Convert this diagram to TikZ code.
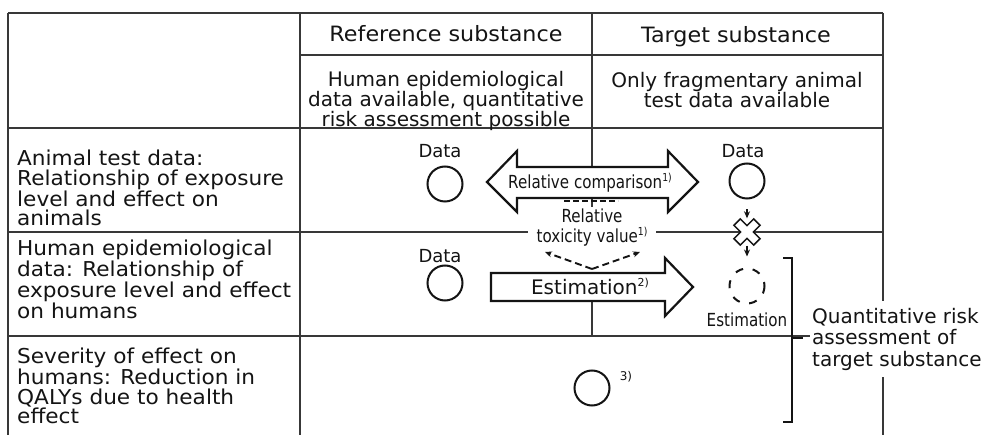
\documentclass[tikz,border=0pt]{standalone}
\usepackage{fontspec}
\setmainfont[FakeStretch=1.055]{DejaVu Sans}
\newfontfamily\plainfont{DejaVu Sans}
\newfontfamily\condfont[FakeStretch=0.84]{DejaVu Sans}
\usetikzlibrary{arrows.meta}
\newcommand\supnote[1]{\raisebox{0.75ex}{\fontsize{11}{11}\selectfont #1}}
\begin{document}
\begin{tikzpicture}[x=1pt,y=-1pt,
  tline/.style={line width=1.7pt, draw=black!78},
  lbl/.style={font=\fontsize{20.5}{19.6}\selectfont, text=black!92, inner sep=0pt, align=left, anchor=north west},
  hdr/.style={font=\fontsize{21.1}{20}\selectfont, text=black!92, inner sep=0pt, align=center},
  hdrd/.style={font=\fontsize{20}{20}\selectfont\plainfont, text=black!92, inner sep=0pt, align=center},
  smalltxt/.style={font=\fontsize{18}{18}\selectfont\plainfont, text=black!92, inner sep=0pt},
  cond/.style={font=\fontsize{18}{20}\selectfont\condfont, text=black!92, inner sep=0pt},
  dot/.style={circle, draw=black!92, line width=2pt, minimum size=35pt, inner sep=0pt},
  bigarrow/.style={draw=black!92, line width=2.2pt, fill=white, line join=miter},
  smallarr/.style={line width=1.6pt, draw=black!92, -{Stealth[length=7pt,width=6pt]}},
  dashline/.style={line width=1.9pt, draw=black!92, dash pattern=on 6pt off 3pt},
]
\useasboundingbox (0,0) rectangle (989,435);
\fill[white] (0,0) rectangle (989,435);

% table grid
\draw[tline] (8,13) -- (883,13);
\draw[tline] (300,55) -- (883,55);
\draw[tline] (8,128) -- (883,128);
\draw[tline] (8,232) -- (883,232);
\draw[tline] (8,336) -- (883,336);
\draw[tline] (8,13) -- (8,435);
\draw[tline] (300,13) -- (300,435);
\draw[tline] (883,13) -- (883,435);
\draw[tline] (592,13) -- (592,210);
\draw[tline] (592,273) -- (592,336);

% headers
\node[hdr, anchor=base] (refh) at (446,42) {Reference substance};
\node[hdr, anchor=base] (tgth) at (736,43) {Target substance};
\node[hdrd, anchor=north] (refd) at (446,71) {Human epidemiological\\data available, quantitative\\risk assessment possible};
\node[hdrd, anchor=north] (tgtd) at (737,72) {Only fragmentary animal\\test data available};

% row labels
\node[lbl] (row1) at (17,150) {Animal test data:\\Relationship of exposure\\level and effect on\\animals};
\node[lbl] (row2) at (17,240) {Human epidemiological\\data: Relationship of\\exposure level and effect\\on humans};
\node[lbl] (row3) at (17,348) {Severity of effect on\\humans: Reduction in\\QALYs due to health\\effect};

% data circles
\node[smalltxt, anchor=base] (rdl1) at (440,158) {Data};
\node[dot] (rd1) at (445,184) {};
\node[smalltxt, anchor=base] (tdl) at (743,158) {Data};
\node[dot] (td) at (747,181) {};
\node[smalltxt, anchor=base] (rdl2) at (440,263) {Data};
\node[dot] (rd2) at (445,283) {};

% relative comparison double arrow
\draw[bigarrow] (487,182) -- (517,151) -- (517,167) -- (668,167) -- (668,151) -- (698,182)
  -- (668,212) -- (668,198) -- (517,198) -- (517,212) -- cycle;
\node[cond, anchor=base] (relc) at (590,189) {Relative comparison\supnote{1)}};

\draw[dashline] (564,201) -- (618,201);

% relative toxicity value
\node[cond, anchor=north, fill=white, inner ysep=2pt, inner xsep=9pt, align=center] (rtv) at (592,207) {Relative\\toxicity value\supnote{1)}};

% dashed V
\coordinate (vapex) at (592,269);
\coordinate (vl) at (545,252);
\coordinate (vr) at (640,252);
\draw[dashline, dash pattern=on 7pt off 4pt, -{Stealth[length=7pt,width=6pt]}] (vapex) -- (vl);
\draw[dashline, dash pattern=on 7pt off 4pt, -{Stealth[length=7pt,width=6pt]}] (vapex) -- (vr);

% estimation arrow
\draw[bigarrow] (491,273) -- (665,273) -- (665,258) -- (693,287) -- (665,316) -- (665,301) -- (491,301) -- cycle;
\node[font=\fontsize{20}{20}\selectfont\plainfont, text=black!92, inner sep=0pt, anchor=base] (estl) at (590,295) {Estimation\supnote{2)}};

% target estimation circle
\node[dot, dash pattern=on 8pt off 9.7pt, dash phase=4pt] (te) at (747,286) {};
\node[cond, anchor=base] (tel) at (747,327) {Estimation};

% X mark
\node[minimum size=27pt, inner sep=0pt] (xmark) at (747,232) {};
\draw[draw=black!92, line width=1.5pt, fill=white, shift={(747,232)}, rotate=45]
  (4.5,4.5) -- (14,4.5) -- (14,-4.5) -- (4.5,-4.5) -- (4.5,-14) -- (-4.5,-14) -- (-4.5,-4.5)
  -- (-14,-4.5) -- (-14,4.5) -- (-4.5,4.5) -- (-4.5,14) -- (4.5,14) -- cycle;
\draw[smallarr, shorten <=10pt] (td) -- (xmark.north);
\draw[smallarr, shorten >=11pt] (xmark.south) -- (te);

% severity circle
\node[dot] (sev) at (592,388) {};
\node[font=\fontsize{12}{12}\selectfont\plainfont, text=black!92, inner sep=0pt] (sevn) at (626,377) {3)};

% bracket
\draw[line width=2.2pt, draw=black!92] (783,258) -- (792,258) -- (792,422) -- (783,422);
\draw[line width=2.2pt, draw=black!92] (792,338) -- (803,338);
\node[font=\fontsize{20}{21.5}\selectfont\plainfont, text=black!92, fill=white, inner xsep=2pt, inner ysep=7pt, align=left, anchor=west] (qra) at (810,339) {Quantitative risk\\assessment of\\target substance};
\end{tikzpicture}
\end{document}
